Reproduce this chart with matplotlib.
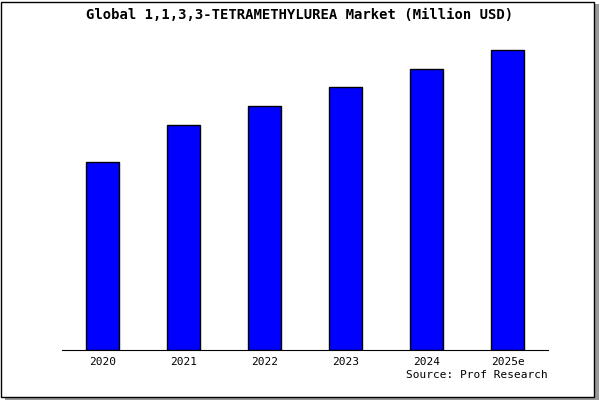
import matplotlib
matplotlib.use("Agg")
import matplotlib.pyplot as plt
from matplotlib.patches import Rectangle

years = ["2020", "2021", "2022", "2023", "2024", "2025e"]
values = [18.8, 22.5, 24.4, 26.3, 28.1, 30.0]

fig = plt.figure(figsize=(6, 4), dpi=100)
fig.patch.set_facecolor("white")

# frame with shadow
fig.patches.append(Rectangle((0.008, 0.0), 0.99, 0.99, transform=fig.transFigure,
                             facecolor="#999999", edgecolor="none", zorder=0))
fig.patches.append(Rectangle((0.002, 0.008), 0.988, 0.988, transform=fig.transFigure,
                             facecolor="white", edgecolor="black", linewidth=1, zorder=1))

ax = fig.add_axes([62 / 600, 1 - 350 / 400, (548 - 62) / 600, 310 / 400])
ax.set_zorder(2)
ax.set_facecolor("white")
x = range(len(years))
ax.bar(x, values, width=0.41, color="#0000ff", edgecolor="black", linewidth=1)
ax.set_xlim(-0.5, len(years) - 0.5)
ax.set_ylim(0, 31)
ax.set_xticks(list(x))
ax.set_xticklabels(years, fontfamily="DejaVu Sans Mono", fontsize=8)
ax.set_yticks([])
for s in ["top", "right", "left"]:
    ax.spines[s].set_visible(False)
ax.spines["bottom"].set_color("black")
ax.tick_params(axis="x", length=0, pad=5)

fig.text(0.5, 0.962, "Global 1,1,3,3-TETRAMETHYLUREA Market (Million USD)",
         ha="center", va="center", fontfamily="DejaVu Sans Mono",
         fontweight="bold", fontsize=10, zorder=3)
fig.text(548 / 600, 1 - 375 / 400, "Source: Prof Research", ha="right", va="center",
         fontfamily="DejaVu Sans Mono", fontsize=8, zorder=3)

fig.savefig("out.png", dpi=100)
